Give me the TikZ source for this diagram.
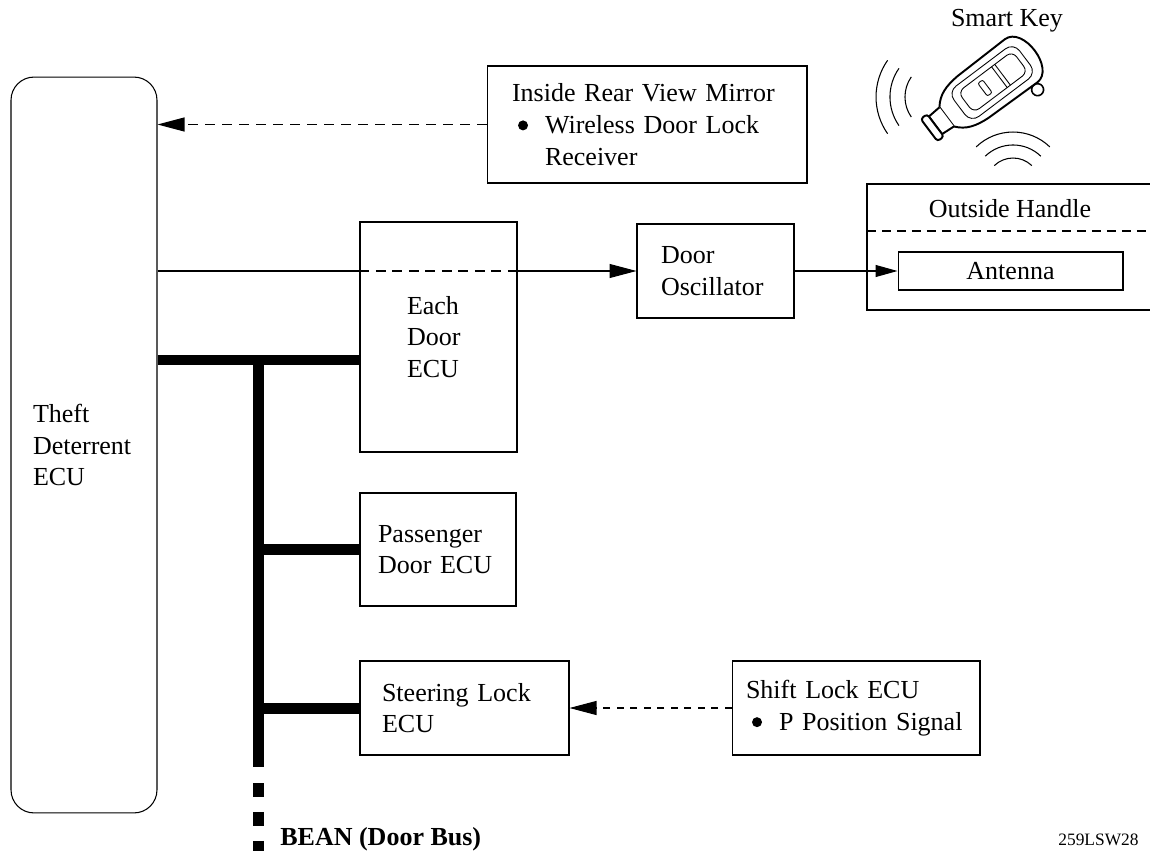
\documentclass[tikz,border=0pt]{standalone}
\usepackage{fontspec}
\setmainfont{Liberation Serif}
\usetikzlibrary{arrows.meta}
\tikzset{
  box/.style={draw, line width=0.6pt, align=left, inner ysep=0pt, font=\fontsize{14.8pt}{18pt}\selectfont},
  txt/.style={inner sep=0pt, font=\fontsize{14.8pt}{18pt}\selectfont},
  sig/.style={line width=0.6pt},
  tip/.style={-{Triangle[length=0.54cm,width=0.28cm]}},
  bus/.style={line width=0.22cm},
  keyline/.style={line width=1.1pt, fill=white},
}
\newcommand{\dotmark}{\raisebox{0.06cm}{\tikz\fill (0,0) circle[radius=0.1cm];}}
\newcommand{\bitem}[1]{\mbox{\hspace*{0.12cm}\makebox[0.54cm][l]{\dotmark}#1}}
\newcommand{\bgap}{\hspace*{0.66cm}}
\begin{document}
\begin{tikzpicture}[x=0.02cm, y=-0.02cm]
\useasboundingbox (0,0) rectangle (1150,851);
\node[box, rounded corners=0.46cm, minimum width=2.92cm, minimum height=14.72cm, text width=2.04cm, inner xsep=0.44cm] (theft) at (84,445) {Theft\\Deterrent\\ECU};
\node[box, minimum width=6.4cm, minimum height=2.34cm, text width=5.4cm, inner xsep=0.5cm] (mirror) at (647,124.5) {Inside Rear View Mirror\\\bitem{Wireless Door Lock}\\\bgap Receiver};
\node[box, minimum width=3.14cm, minimum height=4.6cm, text width=1.26cm, inner xsep=0.94cm] (each) at (438.5,337) {Each\\Door\\ECU};
\node[box, minimum width=3.14cm, minimum height=1.88cm, text width=2.18cm, inner xsep=0.48cm] (osc) at (715.5,271) {Door\\Oscillator};
\node[box, minimum width=3.12cm, minimum height=2.26cm, text width=2.4cm, inner xsep=0.36cm] (pass) at (438,549.5) {Passenger\\Door ECU};
\node[box, minimum width=4.18cm, minimum height=1.88cm, text width=3.3cm, inner xsep=0.44cm] (steer) at (464.5,708) {\mbox{Steering Lock}\\ECU};
\node[box, minimum width=4.96cm, minimum height=1.88cm, text width=4.4cm, inner xsep=0.28cm] (shift) at (856,708) {Shift Lock ECU\\\bitem{P Position Signal}};
\node[box, minimum width=4.5cm, minimum height=0.76cm, inner xsep=0pt] (antenna) at (1010.5,271) {Antenna};
% outside handle, open to the right
\coordinate (handleNW) at (867,184);
\coordinate (handleSW) at (867,310);
\draw[sig] (1150,184) -- (handleNW) -- (handleSW) -- (1150,310);
\draw[sig, dash pattern=on 0.18cm off 0.12cm] (867,231) -- (1150,231);
\node[txt, anchor=base] (handle) at (1010,218) {Outside Handle};
% signals
\draw[sig, tip, dash pattern=on 0.2cm off 0.14cm] (mirror.west) -- (mirror.west -| theft.east);
\draw[sig] (osc.west -| theft.east) -- (osc.west -| each.west);
\draw[sig, dash pattern=on 0.2cm off 0.13cm] (osc.west -| each.west) -- (osc.west -| each.east);
\draw[sig, tip] (osc.west -| each.east) -- (osc.west);
\draw[sig, -{Triangle[length=0.44cm,width=0.24cm]}] (osc.east) -- (antenna.west);
\draw[sig, tip, dash pattern=on 0.14cm off 0.13cm] (shift.west) -- (steer.east);
% BEAN bus
\coordinate (tee) at (258,360);
\coordinate (busend) at (258,767);
\coordinate (busdash) at (258,783);
\draw[bus] (tee -| theft.east) -- (tee -| each.west);
\draw[bus] (tee) -- (busend);
\draw[bus] (tee |- pass.west) -- (pass.west);
\draw[bus] (tee |- steer.west) -- (steer.west);
\draw[bus, dash pattern=on 0.28cm off 0.3cm] (busdash) -- (258,851);
\node[txt, anchor=base west, font=\bfseries\fontsize{14.8pt}{18pt}\selectfont] (bean) at (280,845) {BEAN (Door Bus)};
\node[inner sep=0pt, anchor=base west, font=\fontsize{9.9pt}{12pt}\selectfont] (code) at (1058,845) {259LSW28};
% smart key
\node[txt, anchor=base] (keylabel) at (1007,27) {Smart Key};
\draw[sig] (887.6,60.3) arc[start angle=145, end angle=215, radius=1.28cm];
\draw[sig] (899.0,68.3) arc[start angle=145, end angle=215, radius=1.0cm];
\draw[sig] (911.3,76.9) arc[start angle=145, end angle=215, radius=0.7cm];
\draw[sig] (1049.8,146.9) arc[start angle=46, end angle=134, radius=1.06cm];
\draw[sig] (1040.8,156.2) arc[start angle=46, end angle=134, radius=0.8cm];
\draw[sig] (1031.8,165.6) arc[start angle=46, end angle=134, radius=0.54cm];
\begin{scope}[shift={(985,88)}, x=0.02cm, y=0.02cm, rotate=37]
\draw[keyline, line width=0.9pt] (41,-33) circle[radius=0.12cm];
\draw[keyline] (-48,12) .. controls (-40,22) and (-30,25) .. (-15,26) -- (45,27) .. controls (68,27) and (68,-27) .. (45,-27) -- (-15,-26) .. controls (-30,-25) and (-40,-22) .. (-48,-12) -- cycle;
\draw[keyline] (-48,12) -- (-62,11) -- (-62,-11) -- (-48,-12);
\draw[keyline, rounded corners=0.06cm] (-70,-14) rectangle (-62,14);
\draw[line width=0.5pt, rounded corners=0.2cm] (-32,-19) rectangle (50,19);
\draw[line width=0.5pt, rounded corners=0.14cm] (-24,-13) rectangle (44,13);
\draw[line width=0.5pt] (18,-13) -- (18,13) (22,-13) -- (22,13);
\draw[line width=0.5pt, rounded corners=0.04cm] (-3,-8) rectangle (3,8);
\end{scope}
\end{tikzpicture}
\end{document}
